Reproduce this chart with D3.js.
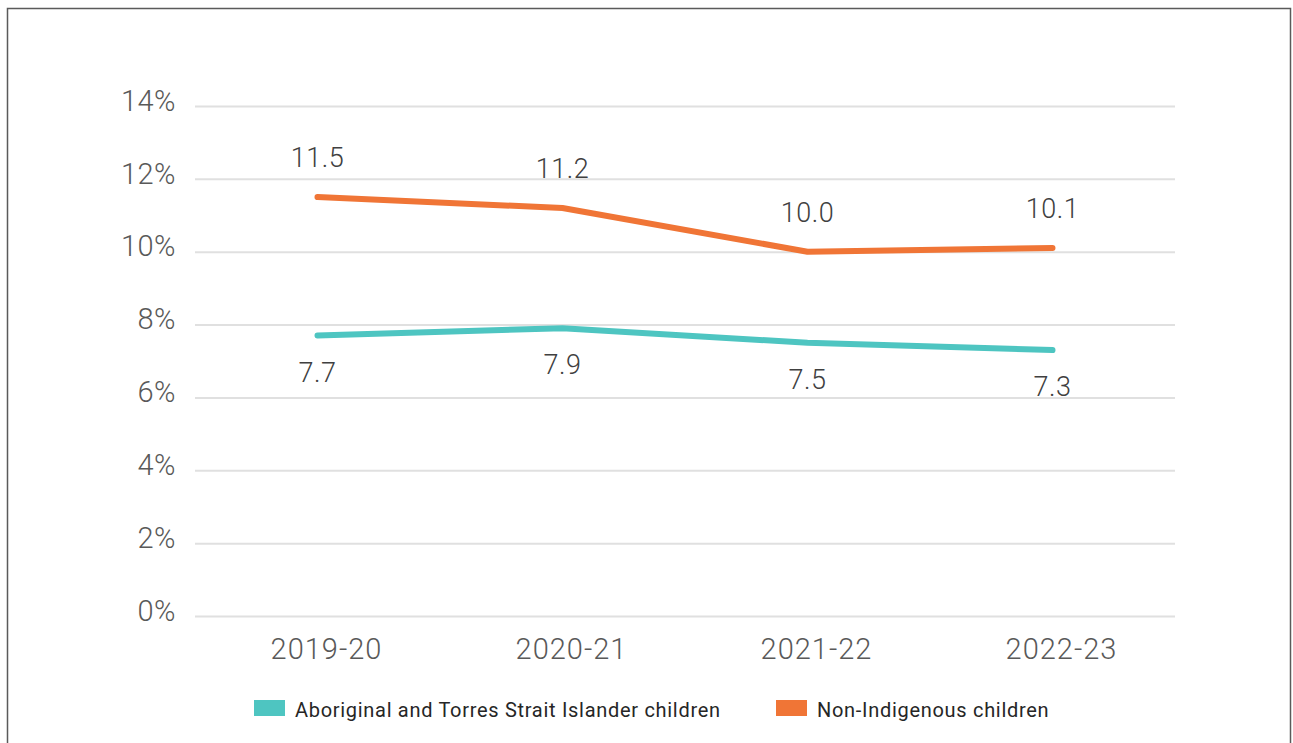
<!DOCTYPE html>
<html>
<head>
<meta charset="utf-8">
<script src="https://cdn.jsdelivr.net/npm/d3@7"></script>
<style>
  html, body { margin: 0; padding: 0; background: #fff; }
  svg { display: block; font-family: Roboto, "Noto Sans", sans-serif; }
</style>
</head>
<body>
<svg id="chart" width="1293" height="743"></svg>
<script>
// chart data
var years = ['2019-20', '2020-21', '2021-22', '2022-23'];
var aboriginal = [7.7, 7.9, 7.5, 7.3];
var nonIndigenous = [11.5, 11.2, 10.0, 10.1];
var yTicks = [0, 2, 4, 6, 8, 10, 12, 14];
var seriesNames = ['Aboriginal and Torres Strait Islander children', 'Non-Indigenous children'];

var colors = {teal: '#4ec5c1', orange: '#f07536'};

var svg = d3.select('#chart');

// frame round the whole chart
svg.append('rect')
  .attr('x', 7.5).attr('y', 8.5)
  .attr('width', 1283).attr('height', 760)
  .attr('fill', 'none')
  .attr('stroke', '#5a5a5a')
  .attr('stroke-width', 1.5);

var plot = {left: 195, right: 1175, top: 106, bottom: 616};

var x = d3.scaleBand().domain(years).range([plot.left, plot.right]);
var y = d3.scaleLinear().domain([0, 14]).range([plot.bottom, plot.top]);

//////////////
// Y axis   //
//////////////
var yAxis = svg.append('g')
  .attr('class', 'y-axis')
  .attr('transform', 'translate(' + plot.left + ',0)')
  .call(d3.axisLeft(y).tickValues(yTicks)
    .tickSize(-(plot.right - plot.left))
    .tickPadding(19)
    .tickFormat(function(d) { return d + '%'; }))
  .attr('font-family', null);  // d3 sets sans-serif on the group

yAxis.select('.domain').remove();
yAxis.selectAll('.tick line')
  .attr('stroke', '#e0e0e0')
  .attr('stroke-width', 2);
yAxis.selectAll('.tick text')
  .attr('fill', '#595959')
  .attr('font-size', 29)
  .attr('font-weight', 300)
  .attr('letter-spacing', 0.5)
  .attr('dy', '0.32em')
  .attr('y', -5);

//////////////
// X axis   //
//////////////
var xAxis = svg.append('g')
  .attr('class', 'x-axis')
  .attr('transform', 'translate(0,' + plot.bottom + ')')
  .call(d3.axisBottom(x).tickSize(0).tickPadding(0))
  .attr('font-family', null);

xAxis.select('.domain').remove();
xAxis.selectAll('.tick text')
  .attr('fill', '#595959')
  .attr('font-size', 29)
  .attr('font-weight', 300)
  .attr('letter-spacing', 1)
  .attr('dy', 0)
  .attr('x', 9)
  .attr('y', 43);

///////////
// Lines //
///////////
var line = d3.line()
  .x(function(d, i) { return x(years[i]) + x.bandwidth() / 2; })
  .y(function(d) { return y(d); });

var series = [
  {name: seriesNames[0], values: aboriginal, color: colors.teal, labelDy: 46},
  {name: seriesNames[1], values: nonIndigenous, color: colors.orange, labelDy: -30}
];

series.forEach(function(s) {
  svg.append('path')
    .datum(s.values)
    .attr('d', line)
    .attr('fill', 'none')
    .attr('stroke', s.color)
    .attr('stroke-width', 6)
    .attr('stroke-linecap', 'round')
    .attr('stroke-linejoin', 'round');

  svg.append('g').selectAll('text')
    .data(s.values)
    .enter().append('text')
      .attr('x', function(d, i) { return x(years[i]) + x.bandwidth() / 2; })
      .attr('y', function(d) { return y(d) + s.labelDy; })
      .attr('text-anchor', 'middle')
      .attr('fill', '#404040')
      .attr('font-size', 27)
      .attr('font-weight', 300)
      .attr('letter-spacing', 0.5)
      .text(function(d) { return d.toFixed(1); });
});

////////////
// Legend //
////////////
var legendItems = [
  {name: seriesNames[0], color: colors.teal, x: 254, w: 31},
  {name: seriesNames[1], color: colors.orange, x: 776, w: 31}
];

var legend = svg.append('g').attr('class', 'legend');
legendItems.forEach(function(item) {
  legend.append('rect')
    .attr('x', item.x).attr('y', 700)
    .attr('width', item.w).attr('height', 16)
    .attr('fill', item.color);
  legend.append('text')
    .attr('x', item.x + item.w + 10)
    .attr('y', 717)
    .attr('fill', '#262626')
    .attr('font-size', 20)
    .attr('letter-spacing', 0.7)
    .text(item.name);
});
</script>
</body>
</html>
